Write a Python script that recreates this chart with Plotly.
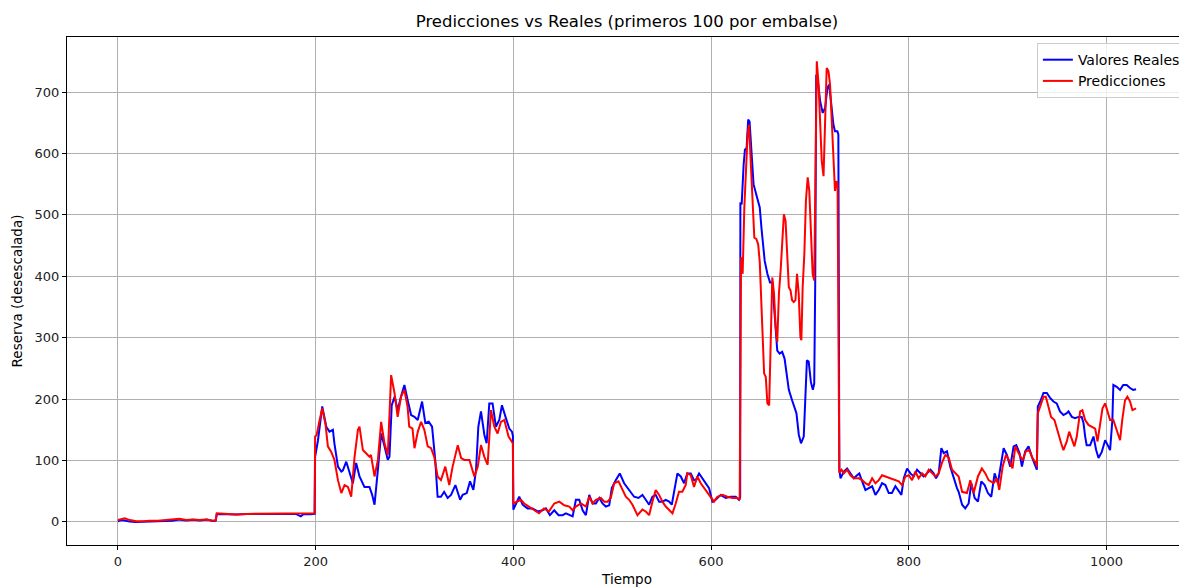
import plotly.graph_objects as go

# ---- Valores Reales (blue) ----
real_x = [0, 4, 8, 12, 18, 25, 32, 40, 48, 55, 62, 69, 76, 83, 90, 96, 99,
          100, 110, 120, 130, 140, 150, 160, 170, 180, 185, 188, 195, 199,
          199.5, 202.4, 206.7, 210.8, 214, 217.5, 219, 222.6, 226, 227.6, 231, 234.3, 237.7, 241, 244.4,
          249.4, 254.5, 257.2, 259.6, 263, 266.3, 269.7, 273, 274.7, 277, 280, 283, 286.4, 289.8, 293,
          296.6, 300, 303.3, 307.7, 311, 314.4, 317.8, 321, 323.4, 326.8, 330, 333.6, 337, 341.4,
          343.8, 346.2, 348.8, 352.9, 356.2, 359.6, 362.3, 364.6, 367.3, 370.7, 373, 375.7, 379, 382.4,
          385.8, 388.5, 392.5, 395.9, 398.6, 399.6,
          400, 402.6, 406, 409.4, 414.4, 419.5, 424.6, 429.6, 433, 437, 441.4, 445.8, 449.8, 453.2,
          457.2, 460, 463.3, 466.7, 470.1, 473.4, 476.8, 480.2, 483.5, 487, 490.2, 493.6, 497, 499.6,
          503.6, 507.7, 512.1, 517.2, 522.2, 526.6, 530.6, 534, 537.4, 540.7, 544, 547.5, 550.8, 554.2,
          557.6, 560.3, 562.6, 566, 569.4, 572.7, 576, 579.5, 582.8, 584.5, 587.9, 591.2, 594.6, 598,
          601.4, 604.7, 609.8, 614.8, 619.9, 625, 628.3, 629.5,
          629.7, 631, 633, 634.3, 636, 637.6, 639, 641, 643, 645.3, 647.7, 649.3, 651, 653, 654.3, 657,
          659.7, 662, 663.7, 665.4, 667, 669.4, 672, 674.4, 676.4, 678.7, 682, 684.4, 686.4, 688.8, 691,
          693.8, 695.4, 697, 698.8, 701, 703, 704.4, 705.4, 706.4, 707.7, 710.4, 713, 715.4, 717.7,
          719.4, 721, 723.8, 725.4, 727.8, 728.8,
          729.8, 731, 734.3, 737.7, 741, 744.4, 747.8, 750, 752.9, 756.2, 759.6, 763, 766.3, 769.7, 773,
          776.4, 779.8, 783, 786.5, 789.9, 792.6, 795, 798.3, 801.7, 805, 808.4, 811.8, 815, 818.5, 822,
          825.2, 827.6, 830.3, 833, 835.4, 838.7, 842, 845.5, 848.8, 850.5, 854, 857.2, 860.6, 863.3,
          866.7, 870, 873.4, 876.8, 880.1, 883.5, 886.9, 890.2, 893.6, 896, 899.3, 902.7, 906.1, 908.8,
          912.1, 914.5, 917.8, 921.2, 924.6, 927.3, 929.6,
          930.6, 933, 936.3, 939.7, 943, 946.4, 949.7, 953, 956.5, 959.9, 961.6, 965, 968.3, 971.7, 975,
          976.8, 978.5, 980, 983.5, 986.9, 989.6, 992, 995.3, 998.7, 1001.3, 1003.7, 1006, 1007, 1010.4,
          1013.8, 1017, 1020.5, 1023.9, 1027, 1030]
real_y = [1, 3, 2, 0.5, 0, 0.5, 1, 1.5, 2.5, 2, 4, 2.5, 3.5, 2.5, 4, 1.5, 2,
          13, 12.5, 12, 13, 12.5, 13, 13, 12.5, 13, 9, 13, 12.5, 13,
          106, 133, 188, 155, 147, 150, 128, 90, 82, 84, 98, 79, 63, 96, 74,
          57, 57, 44, 28, 85, 144, 123, 101, 106, 190, 204, 182, 204, 223, 199,
          174, 171, 166, 196, 161, 163, 155, 101, 41, 41, 49, 39, 44, 60,
          49, 36, 44, 47, 66, 52, 85, 155, 180, 142, 128, 193, 193, 155,
          166, 190, 169, 152, 147, 140,
          20, 30, 41, 28, 22, 22, 17, 19, 22, 11, 19, 11, 11, 14,
          11, 9, 36, 36, 19, 11, 44, 30, 30, 39, 30, 25, 27, 55,
          68, 79, 63, 52, 41, 39, 44, 36, 28, 41, 44, 33, 33, 36,
          33, 28, 49, 79, 74, 63, 79, 79, 68, 68, 79, 71, 63, 55,
          33, 36, 44, 39, 41, 41, 36, 40,
          520, 517, 582, 606, 609, 655, 652, 604, 550, 536, 523, 512, 479, 452, 425, 404,
          390, 390, 355, 306, 279, 274, 277, 266, 242, 215, 198, 188, 177, 142, 128,
          139, 209, 263, 261, 228, 215, 225, 388, 728, 723, 685, 666, 674, 706,
          712, 690, 647, 636, 636, 631,
          85, 71, 82, 87, 79, 71, 76, 79, 66, 52, 55, 58, 44, 52, 63,
          60, 47, 47, 58, 49, 44, 71, 87, 79, 74, 85, 79, 74, 79, 85,
          79, 71, 79, 120, 112, 115, 90, 71, 55, 49, 28, 22, 30, 63,
          39, 33, 66, 60, 47, 41, 79, 63, 96, 120, 109, 90, 123, 125,
          112, 90, 115, 123, 106, 96, 85,
          188, 196, 210, 210, 202, 196, 193, 180, 174, 177, 180, 171, 169, 171, 171,
          161, 139, 125, 125, 139, 117, 104, 114, 133, 125, 117, 166, 223, 220,
          215, 223, 223, 218, 215, 216]

# ---- Predicciones (red) ----
pred_x = [0, 3.6, 7, 12, 18.7, 25.4, 32, 40.4, 48.8, 55.6, 62.3, 69, 75.8, 82.5, 89.2, 96, 99,
          100, 110, 120, 130, 143, 156, 170, 183, 195, 199,
          199.5, 201, 203.7, 206.7, 210, 212.4, 215.8, 219, 222.6, 226, 229.3, 232.7, 236, 239.4, 242.8,
          244.4, 247.8, 251, 254.5, 256, 259.6, 263, 266.3, 269.7, 273, 276.4, 279.8, 283, 286.4, 289.8,
          293, 294.7, 298, 300, 303.4, 306.7, 310, 313.4, 316.8, 320, 323.4, 326.8, 331.2, 335.2, 338.6,
          343.8, 347.2, 350.5, 355.6, 360.6, 364, 367.3, 370.7, 374, 377.4, 380.8, 384.1, 387.5, 390.9,
          395.2, 397.6, 399.5,
          400, 403.3, 407.7, 411, 416, 421, 426, 431, 436, 441.4, 446.5, 451.5, 456.6, 460, 463.3, 468.4,
          473.4, 476.8, 480.2, 483.5, 488.6, 492, 495.3, 498.6, 502, 506.4, 510.4, 513.8, 517.2, 520.5,
          525.6, 530.6, 534, 537.4, 540.7, 544, 547.5, 550.8, 554.2, 557.6, 561, 564.3, 567.6, 571, 574.4,
          576, 579.5, 582.8, 586.2, 589.6, 593, 596.3, 599.7, 603, 606.4, 611.5, 616.5, 621.6, 626.6, 629,
          630.4, 632, 633.7, 635.4, 637, 638.4, 640.4, 642, 643.8, 645.8, 647.7, 649.3, 651, 652.7, 653.7,
          655.4, 657, 658.8, 660.4, 662, 663.7, 665.4, 667, 668.7, 670.4, 672, 673.7, 675.4, 677, 678.7,
          680.4, 682, 683.7, 685.4, 687, 688.7, 690.4, 691.4, 692.7, 694.4, 696, 697.8, 699.4, 701, 702.8,
          704.4, 705.8, 707, 708.8, 710.4, 712, 713.8, 715.4, 717, 718.8, 720.4, 722, 723.8, 725.4, 727, 728,
          729.8, 732, 734.3, 737.7, 741, 744.4, 749.5, 752.9, 756.2, 759.6, 763, 766.3, 769.7, 773, 776.4,
          781.4, 786.5, 789.9, 793.3, 796.6, 800, 803.4, 806.7, 810, 813.5, 816.8, 820.2, 823.6, 827, 830.3,
          833.6, 837, 840.4, 843.8, 847.1, 850.5, 854, 858.9, 862.3, 865.7, 870, 874, 877.5, 880.8, 885.9,
          889.2, 891.6, 895, 898.3, 901.7, 905, 907.8, 911.1, 915.1, 918.5, 921.9, 925.2, 928.6, 929.6,
          930.6, 933, 936.3, 938.7, 941.4, 944, 947.4, 950.8, 954.2, 956.5, 959.9, 962.3, 965, 967.6, 970,
          973.4, 975.7, 978.5, 981.8, 985.2, 988.6, 991, 993.6, 996, 998.7, 1001.3, 1003.7, 1007, 1010.4,
          1013.8, 1016, 1018.8, 1021.2, 1023.9, 1026.3, 1030]
pred_y = [3, 5, 6, 3, 1, 1, 2, 2, 3, 3, 5, 3, 4, 3, 4, 2, 3,
          14, 13, 12, 13, 13, 13, 13, 13, 13.5, 14,
          139, 141, 163, 185, 159, 123, 114, 101, 68, 47, 60, 57, 41, 106, 150,
          155, 117, 112, 106, 109, 74, 101, 163, 128, 109, 239, 210, 171, 204, 215,
          188, 155, 152, 120, 147, 163, 150, 123, 120, 106, 74, 68, 90, 60, 90,
          125, 104, 101, 101, 74, 90, 125, 106, 93, 182, 155, 144, 163, 166,
          139, 133, 128,
          30, 33, 36, 30, 25, 19, 14, 22, 17, 30, 33, 27, 25, 19, 25, 30,
          25, 41, 30, 36, 39, 33, 33, 39, 63, 66, 52, 41, 36, 28,
          11, 20, 17, 11, 33, 52, 44, 33, 25, 20, 14, 30, 49, 49, 60,
          79, 76, 57, 74, 63, 55, 49, 39, 33, 41, 44, 41, 39, 39, 36,
          431, 404, 512, 582, 631, 647, 582, 523, 463, 461, 452, 423, 361, 290, 242,
          236, 193, 190, 296, 398, 372, 317, 293, 372, 409, 458, 501, 490, 436, 382,
          377, 361, 358, 361, 404, 372, 301, 296, 382, 436, 523, 561, 539, 469, 404,
          393, 620, 750, 712, 647, 588, 563, 647, 739, 734, 712, 658, 604, 539, 555, 550,
          80, 85, 79, 85, 76, 71, 71, 68, 63, 60, 71, 63, 68, 76, 74,
          71, 68, 66, 60, 74, 76, 68, 82, 71, 79, 74, 85, 79, 74, 79,
          96, 109, 105, 85, 79, 74, 49, 47, 68, 47, 74, 87, 79, 68, 63,
          71, 52, 90, 109, 100, 87, 123, 112, 100, 115, 117, 104, 96, 90,
          177, 188, 204, 204, 188, 171, 166, 145, 128, 117, 131, 147, 133, 123, 139,
          180, 182, 166, 158, 155, 152, 131, 158, 185, 193, 177, 166, 166, 150,
          133, 166, 198, 204, 196, 182, 185]

x_ticks = [0, 200, 400, 600, 800, 1000]
y_ticks = [0, 100, 200, 300, 400, 500, 600, 700]

FONT = "DejaVu Sans"

fig = go.Figure()
fig.add_trace(go.Scatter(x=real_x, y=real_y, mode="lines", name="Valores Reales",
                         line=dict(color="#0000ff", width=2)))
fig.add_trace(go.Scatter(x=pred_x, y=pred_y, mode="lines", name="Predicciones",
                         line=dict(color="#ff0000", width=2)))

axis_common = dict(showgrid=True, gridcolor="#b0b0b0", gridwidth=1, zeroline=False,
                   showline=True, linecolor="black", linewidth=1, mirror=True,
                   ticks="outside", ticklen=4, tickcolor="black", automargin=False,
                   tickfont=dict(family=FONT, size=13, color="#222222"))

# The page body adds ~8px around the figure; size the figure to fill the rest.
fig.update_layout(
    width=1179, height=580,
    margin=dict(l=59, r=0, t=29, b=43, autoexpand=False),
    plot_bgcolor="white", paper_bgcolor="white",
    title=dict(text="Predicciones vs Reales (primeros 100 por embalse)",
               x=0.5, xref="paper", y=1 - 13 / 580, yref="container",
               xanchor="center", yanchor="middle",
               font=dict(family=FONT, size=16.5, color="black")),
    xaxis=dict(range=[-51.5, 1081.5], tickvals=x_ticks,
               title=dict(text="Tiempo", standoff=6,
                          font=dict(family=FONT, size=13.5, color="black")),
               **axis_common),
    yaxis=dict(range=[-37.6, 789.6], tickvals=y_ticks,
               title=dict(text="Reserva (desescalada)", standoff=8,
                          font=dict(family=FONT, size=13.5, color="black")),
               **axis_common),
    legend=dict(x=0.999, xanchor="right", y=0.988, yanchor="top",
                bgcolor="rgba(255,255,255,0.8)", bordercolor="#cccccc", borderwidth=1,
                font=dict(family=FONT, size=14, color="black"),
                itemwidth=30, tracegroupgap=2,
                entrywidth=112, entrywidthmode="pixels"),
    showlegend=True,
)

fig.write_html("out.html")
